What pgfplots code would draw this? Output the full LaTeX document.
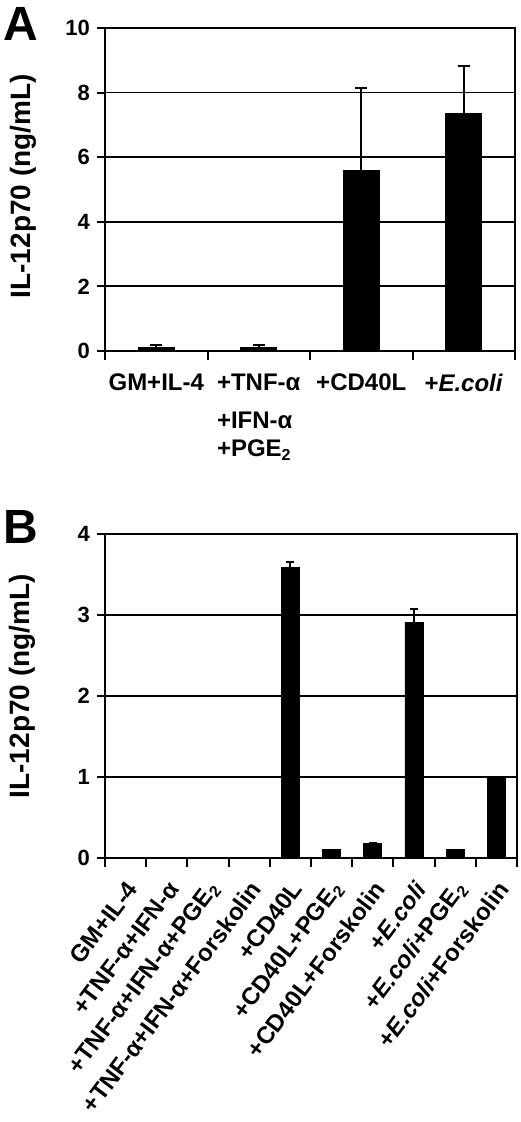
\documentclass[border=0pt]{standalone}
\usepackage{fontspec}
\setmainfont{Liberation Sans}
\usepackage{pgfplots}
\pgfplotsset{compat=1.18}

\pgfplotsset{
  panel/.style={
    scale only axis,
    anchor=south west,
    axis line style={line width=1pt},
    ymajorgrids,
    grid style={black, line width=0.9pt},
    ymin=0,
    tick align=outside,
    ytick pos=left,
    xtick pos=bottom,
    major tick length=4pt,
    minor tick length=4.5pt,
    major y tick style={black, line width=1pt},
    major x tick style={draw=none},
    minor x tick style={black, line width=1pt},
    /pgf/number format/assume math mode=true,
    yticklabel style={font=\fontsize{11}{12}\selectfont\bfseries},
    ylabel={IL-12p70 (ng/mL)},
    ylabel style={font=\fontsize{14}{16}\selectfont\bfseries, anchor=center},
  },
  bars/.style={
    ybar, bar shift=0pt, fill=black, draw=black,
    error bars/.cd, y dir=plus, y explicit,
    error bar style={line width=1pt, black},
    error mark options={rotate=90, line width=1pt, black, mark size=#1},
  },
}

\begin{document}
\begin{tikzpicture}
\useasboundingbox (0,0) rectangle (260pt,561pt);

% panel A
\node[anchor=north west, inner sep=0pt, font=\fontsize{24}{24}\selectfont\bfseries] at (1.5pt,557.5pt) {A};
\begin{axis}[
  panel,
  at={(52.5pt,385.5pt)},
  width=205pt, height=161.5pt,
  xmin=-0.5, xmax=3.5,
  ymax=10,
  ytick={0,2,4,6,8,10},
  xtick={0,1,2,3},
  minor xtick={-0.5,0.5,1.5,2.5,3.5},
  xticklabels={GM+IL-4, {+TNF-α\\[5pt]+IFN-α\\+PGE\textsubscript{2}}, +CD40L, +\textit{E.coli}},
  xticklabel style={font=\fontsize{12}{14}\selectfont\bfseries, align=left, anchor=north, yshift=-4pt},
  ylabel style={at={(axis description cs:-0.2,0.51)}},
]
\addplot[bar width=18pt, bars=3pt] coordinates {
  (0,0.10) +- (0,0.10)
  (1,0.10) +- (0,0.10)
  (2,5.60) +- (0,2.55)
  (3,7.35) +- (0,1.47)
};
\end{axis}

% panel B
\node[anchor=north west, inner sep=0pt, font=\fontsize{24}{24}\selectfont\bfseries] at (1.5pt,306pt) {B};
\begin{axis}[
  panel,
  at={(52.5pt,132pt)},
  width=206pt, height=162pt,
  xmin=-0.5, xmax=9.5,
  ymax=4,
  ytick={0,1,2,3,4},
  xtick={0,...,9},
  minor xtick={-0.5,0.5,...,9.5},
  xticklabels={GM+IL-4, +TNF-α+IFN-α, +TNF-α+IFN-α+PGE\textsubscript{2}, +TNF-α+IFN-α+Forskolin,
    +CD40L, +CD40L+PGE\textsubscript{2}, +CD40L+Forskolin,
    +\textit{E.coli}, +\textit{E.coli}+PGE\textsubscript{2}, +\textit{E.coli}+Forskolin},
  xticklabel style={font=\fontsize{12}{13}\selectfont\bfseries, xshift=5.5pt, yshift=-6.5pt, rotate=53, anchor=east},
  ylabel style={at={(axis description cs:-0.2,0.53)}},
]
\addplot[bar width=9pt, bars=2pt] coordinates {
  (0,0) +- (0,0)
  (1,0) +- (0,0)
  (2,0) +- (0,0)
  (3,0) +- (0,0)
  (4,3.59) +- (0,0.06)
  (5,0.10) +- (0,0)
  (6,0.18) +- (0,0)
  (7,2.91) +- (0,0.17)
  (8,0.10) +- (0,0)
  (9,0.98) +- (0,0.02)
};
\end{axis}
\end{tikzpicture}
\end{document}
